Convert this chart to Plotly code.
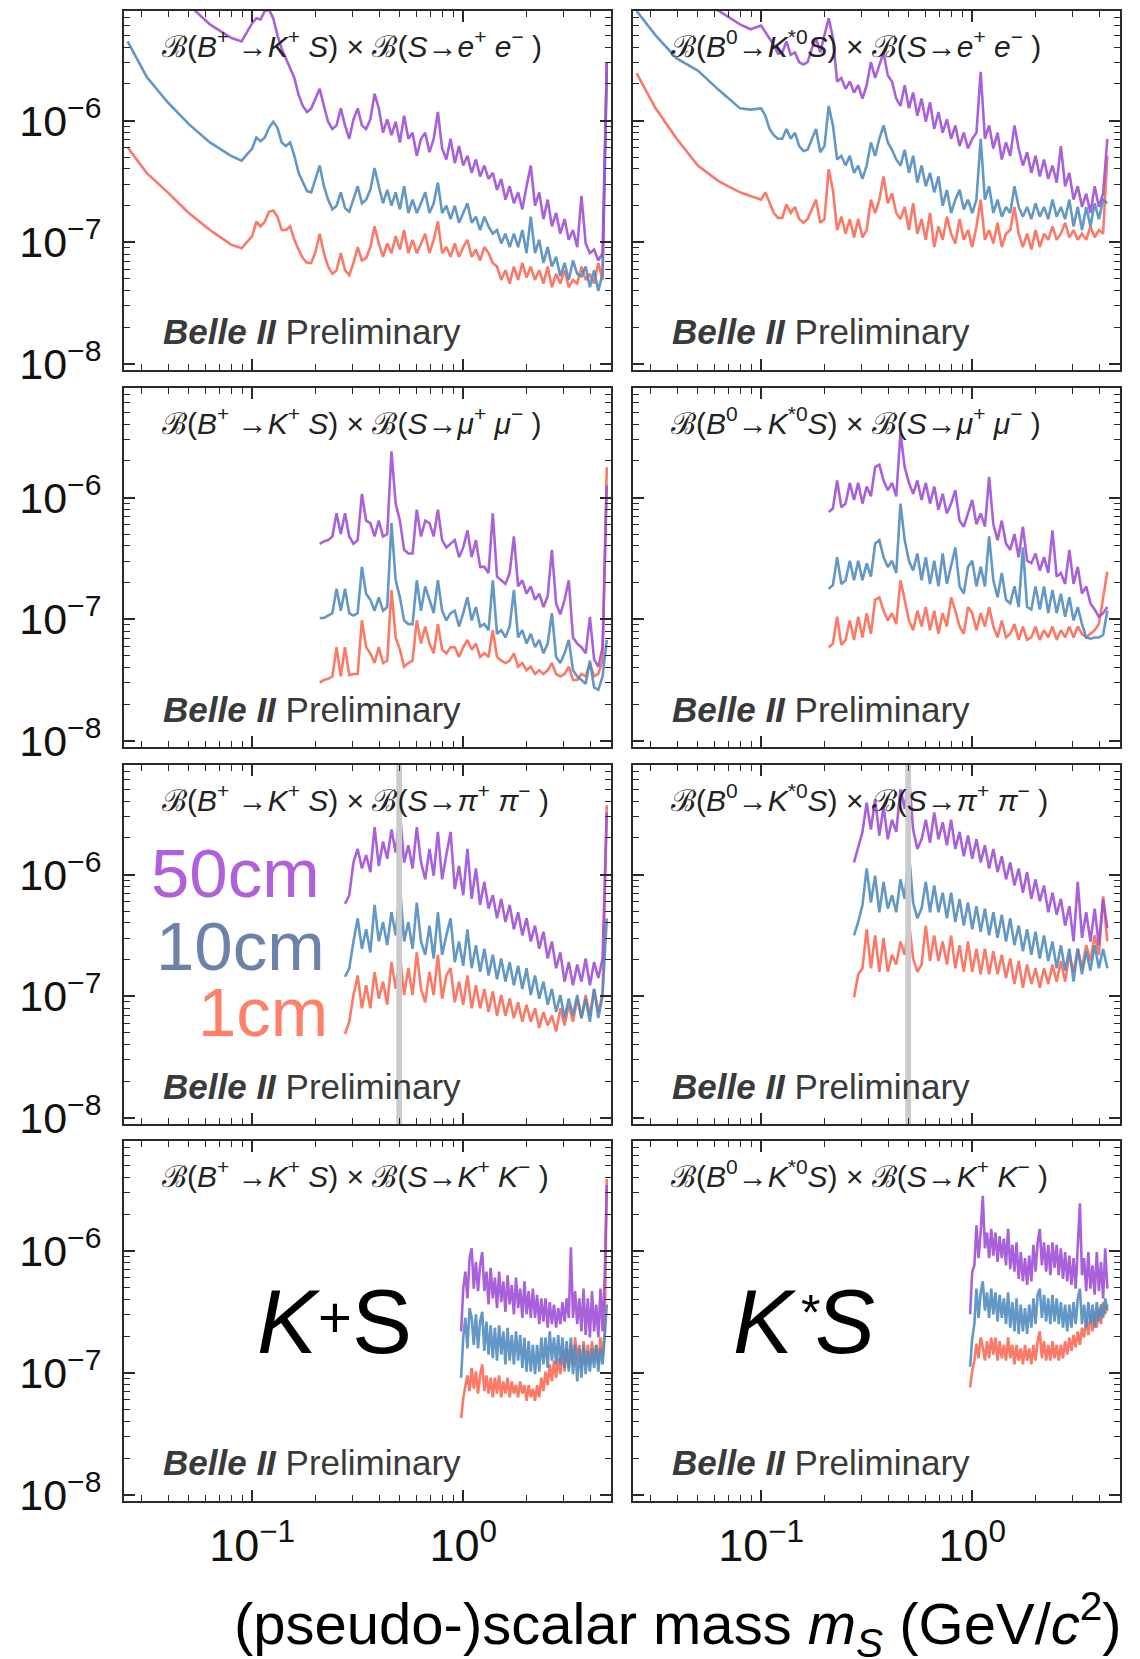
import plotly.graph_objects as go

# ---------------- data: log10(mass / GeV c^-2) grids and log10(upper limit) ----------------
LOGM_EE = [-1.59, -1.5, -1.4, -1.3, -1.2, -1.1, -1.05,
           -1.00, -0.98, -0.96, -0.94, -0.92, -0.90, -0.88, -0.86, -0.84, -0.82,
           -0.80, -0.78, -0.76, -0.74, -0.72, -0.70, -0.68, -0.66, -0.64, -0.62,
           -0.60, -0.58, -0.56, -0.54, -0.52, -0.50, -0.48, -0.46, -0.44, -0.42,
           -0.40, -0.38, -0.36, -0.34, -0.32, -0.30, -0.28, -0.26, -0.24, -0.22,
           -0.20, -0.18, -0.16, -0.14, -0.12, -0.10, -0.08, -0.06, -0.04, -0.02,
           0.00, 0.02, 0.04, 0.06, 0.08, 0.10, 0.12, 0.14, 0.16, 0.18,
           0.20, 0.22, 0.24, 0.26, 0.28, 0.30, 0.32, 0.34, 0.36, 0.38,
           0.40, 0.42, 0.44, 0.46, 0.48, 0.50, 0.52, 0.54, 0.56, 0.58,
           0.60, 0.62, 0.64, 0.66, 0.68]

EE_KP_1CM = [-6.22, -6.43, -6.59, -6.76, -6.90, -7.02, -7.05,
             -6.95, -6.83, -6.87, -6.83, -6.75, -6.74, -6.79, -6.90, -6.90, -6.87,
             -6.98, -7.06, -7.13, -7.17, -7.17, -7.08, -6.93, -7.09, -7.20, -7.26,
             -7.23, -7.09, -7.23, -7.27, -7.17, -7.04, -7.15, -7.13, -7.04, -6.87,
             -7.01, -7.12, -7.01, -7.09, -6.95, -7.06, -6.90, -7.09, -6.98, -7.09,
             -7.01, -6.93, -7.09, -6.98, -6.83, -7.09, -7.04, -7.12, -7.01, -7.12,
             -7.04, -6.98, -7.12, -7.06, -7.15, -7.04, -7.09, -7.17, -7.20, -7.31,
             -7.23, -7.34, -7.20, -7.31, -7.17, -7.29, -7.20, -7.31, -7.23, -7.34,
             -7.20, -7.37, -7.26, -7.34, -7.23, -7.37, -7.31, -7.34, -7.20, -7.31,
             -7.26, -7.34, -7.17, -7.31, -5.52]
EE_KP_10CM = [-5.35, -5.64, -5.85, -6.03, -6.18, -6.29, -6.33,
              -6.23, -6.14, -6.17, -6.14, -6.06, -6.01, -6.06, -6.18, -6.21, -6.18,
              -6.29, -6.43, -6.51, -6.58, -6.59, -6.48, -6.37, -6.54, -6.65, -6.73,
              -6.70, -6.59, -6.72, -6.75, -6.65, -6.54, -6.68, -6.65, -6.57, -6.39,
              -6.54, -6.68, -6.57, -6.70, -6.59, -6.73, -6.54, -6.76, -6.65, -6.76,
              -6.68, -6.59, -6.76, -6.68, -6.51, -6.76, -6.70, -6.81, -6.70, -6.84,
              -6.76, -6.68, -6.84, -6.79, -6.90, -6.79, -6.87, -6.93, -6.90, -7.01,
              -6.93, -7.04, -6.93, -7.04, -6.90, -7.09, -6.79, -7.09, -6.98, -7.17,
              -7.04, -7.20, -7.12, -7.28, -7.17, -7.31, -7.15, -7.26, -7.28, -7.20,
              -7.37, -7.23, -7.40, -7.26, -5.60]
EE_KP_50CM = [-4.60, -4.80, -4.95, -5.05, -5.21, -5.32, -5.35,
              -5.20, -5.16, -5.17, -5.10, -5.09, -5.16, -5.30, -5.41, -5.49, -5.57,
              -5.65, -5.79, -5.88, -5.93, -5.90, -5.82, -5.74, -5.88, -6.01, -6.07,
              -6.04, -5.90, -6.04, -6.15, -5.99, -5.90, -6.04, -6.07, -5.99, -5.78,
              -5.90, -6.10, -5.99, -6.12, -6.01, -6.18, -5.96, -6.15, -6.10, -6.29,
              -6.15, -6.10, -6.26, -6.15, -5.93, -6.23, -6.32, -6.15, -6.35, -6.21,
              -6.37, -6.29, -6.43, -6.32, -6.46, -6.37, -6.48, -6.43, -6.57, -6.48,
              -6.65, -6.54, -6.68, -6.59, -6.73, -6.54, -6.37, -6.70, -6.59, -6.81,
              -6.65, -6.87, -6.76, -6.93, -6.81, -6.98, -6.90, -7.04, -6.62, -7.01,
              -7.09, -7.06, -7.15, -7.09, -5.52]

EE_KS_1CM = [-5.61, -5.90, -6.15, -6.37, -6.50, -6.59, -6.62,
             -6.65, -6.59, -6.68, -6.76, -6.80, -6.80, -6.69, -6.76, -6.71, -6.81,
             -6.84, -6.81, -6.73, -6.65, -6.84, -6.81, -6.40, -6.57, -6.90, -6.79,
             -6.93, -6.81, -6.96, -6.81, -6.96, -6.90, -6.65, -6.76, -6.65, -6.46,
             -6.68, -6.60, -6.76, -6.81, -6.71, -6.90, -6.68, -6.93, -6.81, -6.98,
             -6.76, -7.04, -6.87, -6.98, -6.79, -6.93, -7.01, -6.81, -6.98, -6.90,
             -7.04, -6.87, -6.65, -6.98, -6.90, -7.01, -6.84, -7.04, -6.93, -6.90,
             -6.71, -6.93, -7.04, -6.93, -7.06, -6.90, -7.04, -6.93, -6.98, -6.87,
             -6.98, -6.93, -6.84, -6.96, -6.90, -6.98, -6.93, -6.98, -6.87, -6.96,
             -6.90, -6.93, -6.29]
EE_KS_10CM = [-5.10, -5.30, -5.49, -5.59, -5.75, -5.90, -5.91,
              -5.90, -5.96, -6.07, -6.12, -6.15, -6.15, -6.07, -6.15, -6.10, -6.21,
              -6.25, -6.24, -6.15, -6.07, -6.26, -6.21, -5.88, -6.04, -6.32, -6.29,
              -6.37, -6.29, -6.43, -6.37, -6.48, -6.37, -6.18, -6.29, -6.15, -6.04,
              -6.18, -6.24, -6.32, -6.37, -6.24, -6.43, -6.29, -6.51, -6.37, -6.54,
              -6.43, -6.59, -6.46, -6.70, -6.57, -6.76, -6.65, -6.57, -6.73, -6.65,
              -6.76, -6.65, -6.15, -6.65, -6.54, -6.76, -6.65, -6.79, -6.71, -6.76,
              -6.54, -6.71, -6.79, -6.71, -6.81, -6.68, -6.79, -6.71, -6.81, -6.65,
              -6.79, -6.71, -6.81, -6.65, -6.87, -6.71, -6.90, -6.71, -6.87, -6.68,
              -6.81, -6.65, -6.68]
EE_KS_50CM = [-4.70, -4.80, -4.90, -5.00, -5.10, -5.21, -5.25,
              -5.22, -5.27, -5.32, -5.38, -5.45, -5.44, -5.35, -5.46, -5.44, -5.52,
              -5.54, -5.52, -5.41, -5.32, -5.44, -5.30, -5.16, -5.32, -5.68, -5.65,
              -5.74, -5.68, -5.77, -5.71, -5.82, -5.71, -5.52, -5.65, -5.54, -5.44,
              -5.63, -5.68, -5.82, -5.88, -5.71, -5.90, -5.77, -5.96, -5.82, -6.01,
              -5.85, -6.07, -5.93, -6.10, -5.99, -6.15, -6.04, -6.21, -6.10, -6.23,
              -6.15, -6.10, -5.60, -6.15, -6.04, -6.23, -6.10, -6.32, -6.18, -6.29,
              -6.04, -6.23, -6.37, -6.26, -6.43, -6.29, -6.46, -6.32, -6.48, -6.37,
              -6.51, -6.21, -6.54, -6.43, -6.65, -6.54, -6.71, -6.60, -6.76, -6.54,
              -6.71, -6.60, -6.15]

LOGM_MM = [-0.68, -0.66, -0.64, -0.62, -0.60, -0.58, -0.56, -0.54, -0.52, -0.50,
           -0.48, -0.46, -0.44, -0.42, -0.40, -0.38, -0.36, -0.34, -0.32, -0.30,
           -0.28, -0.26, -0.24, -0.22, -0.20, -0.18, -0.16, -0.14, -0.12, -0.10,
           -0.08, -0.06, -0.04, -0.02, 0.00, 0.02, 0.04, 0.06, 0.08, 0.10,
           0.12, 0.14, 0.16, 0.18, 0.20, 0.22, 0.24, 0.26, 0.28, 0.30,
           0.32, 0.34, 0.36, 0.38, 0.40, 0.42, 0.44, 0.46, 0.48, 0.50,
           0.52, 0.54, 0.56, 0.58, 0.60, 0.62, 0.64, 0.66, 0.68]

MM_KP_1CM = [-7.52, -7.50, -7.49, -7.47, -7.23, -7.47, -7.23, -7.46, -7.45, -7.45,
             -7.01, -7.23, -7.28, -7.36, -7.23, -7.36, -7.34, -6.76, -7.15, -7.25,
             -7.39, -7.36, -7.34, -7.01, -7.20, -7.06, -7.20, -7.28, -7.04, -7.25,
             -7.28, -7.23, -7.23, -7.31, -7.23, -7.17, -7.25, -7.20, -7.31, -7.28,
             -7.31, -7.09, -7.31, -7.34, -7.36, -7.34, -7.28, -7.39, -7.36, -7.42,
             -7.39, -7.45, -7.42, -7.45, -7.42, -7.36, -7.45, -7.47, -7.45, -7.39,
             -7.50, -7.50, -7.45, -7.47, -7.36, -7.47, -7.45, -7.34, -5.75]
MM_KP_10CM = [-6.99, -6.99, -6.97, -6.95, -6.75, -6.93, -6.75, -6.95, -6.97, -6.95,
              -6.57, -6.79, -6.84, -6.93, -6.82, -6.93, -6.90, -6.21, -6.68, -6.82,
              -7.01, -7.04, -7.04, -6.68, -6.93, -6.73, -6.84, -6.95, -6.68, -6.93,
              -7.01, -6.95, -6.93, -7.06, -6.95, -6.82, -7.01, -6.90, -7.06, -7.04,
              -7.09, -6.68, -7.12, -7.09, -7.15, -7.06, -6.76, -7.15, -7.09, -7.20,
              -7.12, -7.23, -7.17, -7.28, -7.20, -6.95, -7.31, -7.36, -7.28, -7.17,
              -7.42, -7.47, -7.50, -7.53, -7.34, -7.56, -7.58, -7.47, -7.17]
MM_KP_50CM = [-6.38, -6.36, -6.35, -6.32, -6.13, -6.30, -6.13, -6.32, -6.38, -6.35,
              -5.97, -6.19, -6.21, -6.32, -6.19, -6.32, -6.30, -5.62, -6.05, -6.19,
              -6.43, -6.46, -6.46, -6.10, -6.32, -6.19, -6.21, -6.32, -6.10, -6.35,
              -6.41, -6.38, -6.35, -6.49, -6.41, -6.27, -6.49, -6.35, -6.57, -6.57,
              -6.62, -6.13, -6.65, -6.68, -6.71, -6.62, -6.32, -6.73, -6.68, -6.79,
              -6.73, -6.84, -6.79, -6.90, -6.81, -6.43, -6.87, -6.96, -6.84, -6.68,
              -7.15, -7.20, -7.23, -7.28, -6.98, -7.33, -7.39, -7.23, -5.90]

MM_KS_1CM = [-7.23, -7.20, -6.98, -7.21, -7.17, -7.01, -7.17, -6.98, -7.15, -6.95,
             -7.12, -6.84, -6.82, -6.93, -7.01, -6.95, -7.04, -6.68, -6.84, -7.01,
             -7.09, -6.93, -7.06, -6.90, -7.09, -6.93, -7.12, -6.95, -7.06, -6.82,
             -6.93, -7.06, -7.12, -6.90, -6.95, -7.09, -6.95, -7.06, -6.90, -7.06,
             -7.15, -7.01, -7.15, -7.12, -7.04, -7.17, -7.06, -7.17, -7.15, -7.06,
             -7.17, -7.09, -7.15, -7.06, -7.17, -7.09, -7.15, -7.06, -7.15, -7.06,
             -7.12, -7.15, -7.12, -7.09, -7.04, -6.84, -6.61]
MM_KS_10CM = [-6.75, -6.72, -6.49, -6.71, -6.68, -6.52, -6.68, -6.52, -6.68, -6.54,
              -6.65, -6.38, -6.35, -6.49, -6.57, -6.52, -6.62, -6.05, -6.35, -6.52,
              -6.60, -6.46, -6.68, -6.49, -6.71, -6.52, -6.73, -6.46, -6.71, -6.57,
              -6.41, -6.73, -6.79, -6.57, -6.52, -6.73, -6.57, -6.73, -6.32, -6.68,
              -6.82, -6.62, -6.84, -6.87, -6.73, -6.90, -6.41, -6.90, -6.92, -6.73,
              -6.92, -6.73, -6.95, -6.76, -6.95, -6.79, -6.98, -6.82, -7.01, -6.90,
              -7.04, -7.15, -7.16, -7.15, -7.15, -7.13, -6.93]
MM_KS_50CM = [-6.12, -6.09, -5.86, -6.08, -6.05, -5.88, -6.02, -5.88, -6.05, -5.91,
              -5.99, -5.75, -5.73, -5.86, -5.94, -5.88, -5.99, -5.47, -5.75, -5.88,
              -5.97, -5.86, -6.02, -5.88, -6.05, -5.91, -6.10, -5.97, -6.13, -6.05,
              -5.94, -6.19, -6.24, -6.13, -6.02, -6.22, -6.13, -6.24, -5.83, -6.22,
              -6.35, -6.19, -6.38, -6.43, -6.30, -6.49, -6.24, -6.52, -6.54, -6.46,
              -6.60, -6.49, -6.62, -6.27, -6.65, -6.62, -6.71, -6.43, -6.71, -6.57,
              -6.79, -6.73, -6.87, -6.92, -6.98, -6.95, -6.90]

LOGM_PP = [-0.56, -0.54, -0.52, -0.50, -0.48, -0.46, -0.44, -0.42, -0.40, -0.38,
           -0.36, -0.34, -0.32, -0.30, -0.28, -0.26, -0.24, -0.22, -0.20, -0.18,
           -0.16, -0.14, -0.12, -0.10, -0.08, -0.06, -0.04, -0.02, 0.00, 0.02,
           0.04, 0.06, 0.08, 0.10, 0.12, 0.14, 0.16, 0.18, 0.20, 0.22,
           0.24, 0.26, 0.28, 0.30, 0.32, 0.34, 0.36, 0.38, 0.40, 0.42,
           0.44, 0.46, 0.48, 0.50, 0.52, 0.54, 0.56, 0.58, 0.60, 0.62,
           0.64, 0.66, 0.68]

PP_KP_1CM = [-7.31, -7.21, -6.99, -6.83, -7.10, -6.91, -7.10, -6.80, -7.02, -6.88,
             -7.07, -6.72, -6.94, -6.66, -6.99, -6.77, -6.99, -6.64, -6.94, -7.05,
             -6.80, -6.99, -6.66, -7.02, -6.83, -6.77, -7.05, -6.88, -7.07, -6.83,
             -7.10, -6.91, -7.10, -6.94, -7.13, -6.96, -7.16, -6.99, -7.16, -7.02,
             -7.18, -7.05, -7.21, -7.07, -7.21, -7.10, -7.26, -7.13, -7.24, -7.16,
             -7.29, -7.10, -7.24, -7.07, -7.21, -7.02, -7.18, -6.99, -7.16, -6.94,
             -7.13, -6.99, -5.43]
PP_KP_10CM = [-6.84, -6.77, -6.55, -6.36, -6.61, -6.45, -6.64, -6.25, -6.55, -6.39,
              -6.58, -6.31, -6.50, -6.09, -6.55, -6.39, -6.61, -6.23, -6.55, -6.66,
              -6.42, -6.69, -6.31, -6.66, -6.50, -6.36, -6.72, -6.55, -6.75, -6.45,
              -6.77, -6.58, -6.80, -6.61, -6.83, -6.66, -6.86, -6.69, -6.88, -6.72,
              -6.91, -6.75, -6.94, -6.77, -6.99, -6.83, -7.02, -6.88, -7.07, -6.94,
              -7.13, -6.99, -7.18, -7.02, -7.16, -6.99, -7.18, -7.02, -7.21, -6.94,
              -7.18, -6.99, -6.36]
PP_KP_50CM = [-6.24, -6.17, -5.90, -5.79, -5.95, -5.84, -5.98, -5.61, -5.93, -5.73,
              -5.87, -5.63, -5.82, -5.50, -5.90, -5.76, -5.95, -5.61, -5.90, -6.04,
              -5.79, -6.01, -5.65, -6.04, -5.84, -5.65, -6.12, -5.93, -6.17, -5.79,
              -6.20, -5.95, -6.25, -6.06, -6.28, -6.17, -6.36, -6.20, -6.39, -6.25,
              -6.45, -6.31, -6.50, -6.36, -6.55, -6.42, -6.61, -6.47, -6.69, -6.55,
              -6.77, -6.64, -6.88, -6.72, -6.91, -6.74, -6.88, -6.69, -6.91, -6.72,
              -6.85, -6.69, -5.49]

PP_KS_1CM = [-7.01, -6.82, -6.77, -6.45, -6.77, -6.50, -6.80, -6.52, -6.80, -6.66,
             -6.74, -6.55, -6.66, -6.39, -6.69, -6.80, -6.74, -6.42, -6.71, -6.50,
             -6.71, -6.55, -6.74, -6.50, -6.77, -6.58, -6.80, -6.55, -6.80, -6.61,
             -6.82, -6.61, -6.82, -6.63, -6.82, -6.66, -6.85, -6.69, -6.90, -6.71,
             -6.93, -6.74, -6.90, -6.77, -6.93, -6.77, -6.90, -6.74, -6.88, -6.71,
             -6.88, -6.66, -6.80, -6.61, -6.77, -6.58, -6.71, -6.50, -6.66, -6.18,
             -6.55]
PP_KS_10CM = [-6.50, -6.39, -6.25, -5.95, -6.23, -6.01, -6.31, -6.06, -6.28, -6.17,
              -6.31, -6.04, -6.20, -5.82, -6.23, -6.36, -6.28, -6.06, -6.31, -6.09,
              -6.31, -6.15, -6.36, -6.15, -6.39, -6.20, -6.42, -6.23, -6.45, -6.26,
              -6.47, -6.28, -6.50, -6.31, -6.52, -6.33, -6.55, -6.36, -6.58, -6.42,
              -6.63, -6.45, -6.66, -6.47, -6.69, -6.50, -6.71, -6.55, -6.77, -6.58,
              -6.79, -6.61, -6.88, -6.61, -6.82, -6.63, -6.79, -6.58, -6.77, -6.61,
              -6.77]
PP_KS_50CM = [-5.90, -5.78, -5.65, -5.41, -5.63, -5.38, -5.68, -5.44, -5.71, -5.55,
              -5.65, -5.30, -5.46, -5.19, -5.63, -5.79, -5.71, -5.55, -5.74, -5.49,
              -5.71, -5.57, -5.76, -5.55, -5.79, -5.65, -5.85, -5.68, -5.87, -5.71,
              -5.90, -5.76, -5.95, -5.79, -5.98, -5.85, -6.04, -5.90, -6.09, -5.95,
              -6.15, -5.98, -6.20, -6.04, -6.22, -6.09, -6.31, -6.15, -6.33, -6.20,
              -6.42, -6.26, -6.55, -6.06, -6.52, -6.31, -6.55, -6.28, -6.58, -6.20,
              -6.44]

LOGM_KK = [-0.01, 0.00, 0.01, 0.02, 0.03, 0.04, 0.05, 0.06, 0.07, 0.08,
           0.09, 0.10, 0.11, 0.12, 0.13, 0.14, 0.15, 0.16, 0.17, 0.18,
           0.19, 0.20, 0.21, 0.22, 0.23, 0.24, 0.25, 0.26, 0.27, 0.28,
           0.29, 0.30, 0.31, 0.32, 0.33, 0.34, 0.35, 0.36, 0.37, 0.38,
           0.39, 0.40, 0.41, 0.42, 0.43, 0.44, 0.45, 0.46, 0.47, 0.48,
           0.49, 0.50, 0.51, 0.52, 0.53, 0.54, 0.55, 0.56, 0.57, 0.58,
           0.59, 0.60, 0.61, 0.62, 0.63, 0.64, 0.65, 0.66, 0.67, 0.68]

KK_KP_1CM = [-7.37, -7.21, -7.11, -7.02, -7.15, -6.96, -7.13, -6.99, -7.17, -7.02,
             -6.93, -7.15, -7.02, -7.17, -7.04, -7.20, -7.04, -7.17, -7.02, -7.20,
             -7.07, -7.17, -7.04, -7.20, -7.07, -7.17, -7.10, -7.20, -7.07, -7.17,
             -7.10, -7.23, -7.10, -7.20, -7.13, -7.23, -7.10, -7.20, -7.04, -7.15,
             -6.99, -7.10, -6.93, -7.07, -6.90, -7.04, -6.88, -7.01, -6.82, -6.99,
             -6.80, -6.96, -6.77, -6.93, -6.71, -6.90, -6.77, -6.96, -6.74, -6.93,
             -6.77, -6.93, -6.74, -6.90, -6.77, -6.93, -6.71, -6.88, -6.66, -5.41]
KK_KP_10CM = [-7.04, -6.71, -6.55, -6.80, -6.47, -6.55, -6.77, -6.52, -6.80, -6.58,
              -6.50, -6.82, -6.58, -6.85, -6.61, -6.88, -6.63, -6.90, -6.61, -6.85,
              -6.66, -6.93, -6.63, -6.90, -6.69, -6.93, -6.66, -6.90, -6.69, -6.96,
              -6.71, -6.99, -6.74, -6.99, -6.77, -7.01, -6.77, -6.99, -6.71, -6.93,
              -6.71, -6.96, -6.66, -6.90, -6.71, -6.93, -6.69, -6.93, -6.71, -6.96,
              -6.74, -6.99, -6.71, -7.01, -6.77, -7.07, -6.80, -7.04, -6.77, -7.01,
              -6.82, -6.99, -6.80, -6.96, -6.77, -6.99, -6.80, -6.93, -6.71, -6.44]
KK_KP_50CM = [-6.66, -6.31, -6.17, -6.39, -6.06, -5.98, -6.31, -6.09, -6.33, -6.12,
              -6.01, -6.33, -6.17, -6.44, -6.14, -6.39, -6.22, -6.47, -6.17, -6.42,
              -6.25, -6.50, -6.20, -6.44, -6.28, -6.52, -6.22, -6.47, -6.31, -6.55,
              -6.25, -6.52, -6.33, -6.55, -6.31, -6.55, -6.36, -6.60, -6.39, -6.58,
              -6.39, -6.63, -6.42, -6.60, -6.44, -6.63, -6.47, -6.60, -6.42, -6.58,
              -6.39, -6.55, -5.97, -6.55, -6.33, -6.60, -6.39, -6.66, -6.31, -6.69,
              -6.39, -6.71, -6.33, -6.66, -6.44, -6.71, -6.31, -6.66, -6.22, -5.46]

KK_KS_1CM = [-7.12, -6.98, -6.90, -6.76, -6.88, -6.71, -6.79, -6.90, -6.74, -6.88,
             -6.71, -6.85, -6.71, -6.90, -6.74, -6.88, -6.77, -6.90, -6.71, -6.88,
             -6.77, -6.93, -6.77, -6.90, -6.80, -6.93, -6.77, -6.90, -6.80, -6.93,
             -6.77, -6.90, -6.74, -6.66, -6.88, -6.74, -6.90, -6.77, -6.90, -6.74,
             -6.88, -6.77, -6.90, -6.77, -6.88, -6.74, -6.85, -6.71, -6.82, -6.69,
             -6.79, -6.66, -6.77, -6.63, -6.71, -6.55, -6.69, -6.52, -6.66, -6.50,
             -6.63, -6.47, -6.60, -6.42, -6.52, -6.44]
KK_KS_10CM = [-6.95, -6.72, -6.60, -6.31, -6.55, -6.34, -6.25, -6.49, -6.34, -6.55,
              -6.31, -6.52, -6.34, -6.58, -6.36, -6.55, -6.39, -6.60, -6.34, -6.63,
              -6.42, -6.66, -6.39, -6.68, -6.44, -6.66, -6.47, -6.68, -6.44, -6.63,
              -6.39, -6.60, -6.36, -6.31, -6.55, -6.36, -6.58, -6.39, -6.60, -6.36,
              -6.58, -6.39, -6.60, -6.42, -6.63, -6.44, -6.66, -6.44, -6.63, -6.42,
              -6.60, -6.39, -6.31, -6.60, -6.44, -6.63, -6.42, -6.60, -6.44, -6.63,
              -6.42, -6.58, -6.44, -6.55, -6.39, -6.49]
KK_KS_50CM = [-6.52, -6.17, -6.12, -5.79, -6.06, -5.85, -5.55, -5.98, -5.85, -6.06,
              -5.82, -6.04, -5.85, -6.09, -5.88, -6.06, -5.90, -6.12, -5.82, -6.15,
              -5.95, -6.17, -5.93, -6.23, -6.01, -6.25, -6.06, -6.28, -6.04, -6.25,
              -5.95, -6.17, -5.93, -5.82, -6.12, -5.93, -6.17, -5.95, -6.20, -5.93,
              -6.14, -5.95, -6.20, -5.98, -6.23, -6.01, -6.25, -6.04, -6.28, -6.06,
              -6.31, -5.93, -5.61, -6.20, -6.06, -6.33, -6.01, -6.31, -6.12, -6.36,
              -6.01, -6.33, -6.09, -6.39, -5.98, -6.31]

KS_VETO = [0.482, 0.513]          # GeV/c^2, grey band in the pi+pi- panels
DECAY_LENGTHS = ["50cm", "10cm", "1cm"]
X_TICKS = [0.1, 1.0]
Y_TICKS = [1e-8, 1e-7, 1e-6]

# ---------------- style / layout (pixel positions in the 1140x1659 page) ----------------
PAGE_W, PAGE_H = 1140, 1659
OFF = 8                                   # default body margin of the html page
W, H = PAGE_W - OFF, PAGE_H - OFF
FONT = "Liberation Sans, Arial, Helvetica, sans-serif"
RED = "rgba(250,108,86,0.9)"
BLUE = "rgba(82,140,192,0.9)"
PURPLE = "rgba(160,80,215,0.9)"
TXT_COLORS = ["#B060D8", "#6C82A8", "#FF8068"]

COL_X = [(124, 611), (633, 1120)]
ROW_Y = [(11, 370), (388, 747), (765, 1124), (1141, 1501)]


def px(x):
    return (x - OFF) / W


def py(y):
    return 1 - (y - OFF) / H


def sup(s):
    return "<sup>" + s + "</sup>"


def title(head, a, b):
    return ("ℬ(" + head + ") × ℬ(<i>S</i>→<i>" + a + "</i>" + sup("+") + " <i>" + b
            + "</i>" + sup("−") + " )")


KP = "<i>B</i>" + sup("+") + " →<i>K</i>" + sup("+") + " <i>S</i>"
KS = "<i>B</i>" + sup("0") + "→<i>K</i>" + sup("*0") + "<i>S</i>"

PANELS = [
    (LOGM_EE, EE_KP_1CM, EE_KP_10CM, EE_KP_50CM, title(KP, "e", "e")),
    (LOGM_EE[:90], EE_KS_1CM, EE_KS_10CM, EE_KS_50CM, title(KS, "e", "e")),
    (LOGM_MM, MM_KP_1CM, MM_KP_10CM, MM_KP_50CM, title(KP, "μ", "μ")),
    (LOGM_MM[:67], MM_KS_1CM, MM_KS_10CM, MM_KS_50CM, title(KS, "μ", "μ")),
    (LOGM_PP, PP_KP_1CM, PP_KP_10CM, PP_KP_50CM, title(KP, "π", "π")),
    (LOGM_PP[:61], PP_KS_1CM, PP_KS_10CM, PP_KS_50CM, title(KS, "π", "π")),
    (LOGM_KK, KK_KP_1CM, KK_KP_10CM, KK_KP_50CM, title(KP, "K", "K")),
    (LOGM_KK[:66], KK_KS_1CM, KK_KS_10CM, KK_KS_50CM, title(KS, "K", "K")),
]

fig = go.Figure()
annotations = []

X_MINOR = [k * 10.0 ** e for e in (-2, -1, 0) for k in range(2, 10)]
Y_MINOR = [k * 10.0 ** e for e in (-9, -8, -7, -6) for k in range(2, 10)]

for i, (logm, c1, c10, c50, ttl) in enumerate(PANELS):
    n = i + 1
    r, c = divmod(i, 2)
    xname = "x" if n == 1 else "x%d" % n
    yname = "y" if n == 1 else "y%d" % n
    xs = [10 ** v for v in logm]
    for series, col in ((c1, RED), (c10, BLUE), (c50, PURPLE)):
        m = min(len(xs), len(series))
        fig.add_trace(go.Scatter(
            x=xs[:m], y=[10 ** v for v in series[:m]], mode="lines",
            line=dict(color=col, width=2.6), xaxis=xname, yaxis=yname,
            showlegend=False, hoverinfo="skip"))

    if n in (5, 6):
        # K_S veto region, drawn over the curves
        fig.add_trace(go.Scatter(
            x=[KS_VETO[0], KS_VETO[1], KS_VETO[1], KS_VETO[0], KS_VETO[0]],
            y=[1e-9, 1e-9, 1e-4, 1e-4, 1e-9], mode="lines", fill="toself",
            fillcolor="#cbcbcb", line=dict(width=0, color="#cbcbcb"),
            xaxis=xname, yaxis=yname, showlegend=False, hoverinfo="skip"))

    axis_common = dict(
        showline=True, linewidth=2, linecolor="#2a2a2a", mirror="allticks",
        ticks="inside", ticklen=11, tickwidth=1.5, tickcolor="#2a2a2a",
        showgrid=False, zeroline=False, type="log", automargin=False,
        tickfont=dict(family=FONT, size=43, color="#111"),
    )
    minor_common = dict(ticks="inside", ticklen=6, tickwidth=1.2, tickcolor="#2a2a2a",
                        showgrid=False, tickmode="array")
    xa = dict(axis_common)
    xa.update(domain=[px(COL_X[c][0]), px(COL_X[c][1])], anchor=yname,
              range=[-1.607, 0.70], tickmode="array", tickvals=X_TICKS,
              ticktext=["10" + sup("−1"), "10" + sup("0")],
              showticklabels=(r == 3), ticklabelstandoff=4,
              tickfont=dict(family=FONT, size=45, color="#111"),
              minor=dict(minor_common, tickvals=X_MINOR))
    ya = dict(axis_common)
    ya.update(domain=[py(ROW_Y[r][1]), py(ROW_Y[r][0])], anchor=xname,
              range=[-8.05, -5.10], tickmode="array", tickvals=Y_TICKS,
              ticktext=["10" + sup("−8"), "10" + sup("−7"), "10" + sup("−6")],
              showticklabels=(c == 0), ticklabelstandoff=12,
              minor=dict(minor_common, tickvals=Y_MINOR))
    fig.update_layout({("xaxis" if n == 1 else "xaxis%d" % n): xa,
                       ("yaxis" if n == 1 else "yaxis%d" % n): ya})

    left = COL_X[c][0] + 36
    top = ROW_Y[r][0]
    annotations.append(dict(
        x=px(left), y=py(top + 33), xref="paper", yref="paper",
        xanchor="left", yanchor="middle", showarrow=False, text=ttl,
        font=dict(family=FONT, size=30, color="#222")))
    annotations.append(dict(
        x=px(left + 1), y=py(top + 321), xref="paper", yref="paper",
        xanchor="left", yanchor="middle", showarrow=False,
        text="<b><i>Belle II</i></b> Preliminary",
        font=dict(family=FONT, size=35, color="#3a3a3a")))

# decay-length labels
for lab, col, (xr, yc) in zip(DECAY_LENGTHS, TXT_COLORS,
                              [(322, 873), (327, 946), (330, 1013)]):
    annotations.append(dict(
        x=px(xr), y=py(yc), xref="paper", yref="paper", xanchor="right",
        yanchor="middle", showarrow=False, text=lab,
        font=dict(family=FONT, size=69, color=col)))

# big channel labels, built from separate glyph runs
for txt, xc, yc, size in [("<i>K</i>", 289, 1322, 90), ("+", 335, 1316, 58), ("S", 382, 1322, 90),
                          ("<i>K</i>", 765, 1322, 90), ("*", 810, 1313, 50), ("<i>S</i>", 845, 1322, 90)]:
    annotations.append(dict(
        x=px(xc), y=py(yc), xref="paper", yref="paper", xanchor="center",
        yanchor="middle", showarrow=False, text=txt,
        font=dict(family=FONT, size=size, color="#000")))

annotations.append(dict(
    x=px(1124), y=py(1624), xref="paper", yref="paper", xanchor="right",
    yanchor="middle", showarrow=False,
    text="(pseudo-)scalar mass <i>m</i><sub><i>S</i></sub> (GeV/<i>c</i>" + sup("2") + ")",
    font=dict(family=FONT, size=58, color="#000")))

fig.update_layout(
    width=W, height=H, margin=dict(l=0, r=0, t=0, b=0, autoexpand=False),
    paper_bgcolor="white", plot_bgcolor="white",
    annotations=annotations, showlegend=False,
    font=dict(family=FONT),
)

fig.write_html("out.html")
